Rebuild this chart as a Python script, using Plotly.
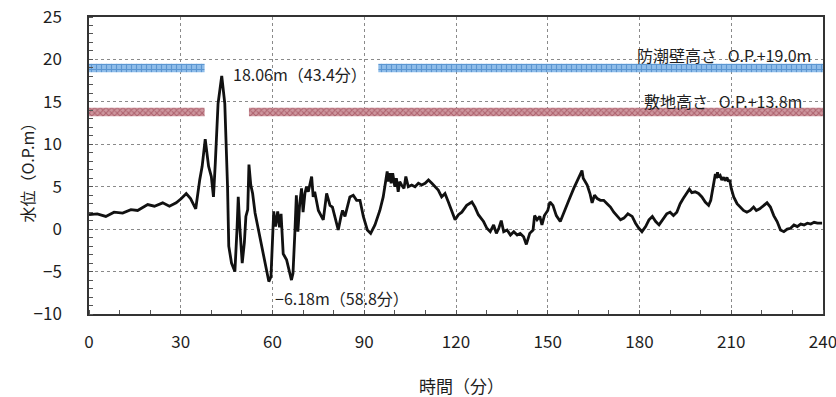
import plotly.graph_objects as go

# ---- data ----
time_min = [0, 2.7, 5.5, 8.2, 11, 13.7, 15.9, 19.2, 21.4, 24.1, 26.3, 28.5, 30.2, 31.8, 33.2, 34.9,
            36.2, 37, 38, 39.1, 40, 40.7, 41.3, 42.2, 43.4, 44.4, 45.3, 45.7, 46.6, 47.7, 48.4, 48.8,
            49.3, 50.1, 50.8, 51.3, 51.9, 52.3, 52.9, 53.5, 54.3, 56.5, 58.8, 59.5, 60, 60.4, 61, 61.7,
            62.3, 62.8, 63.5, 64.6, 66.2, 66.7, 67.3, 67.8, 68.3, 68.9, 69.5, 70, 70.6, 71.1, 71.7,
            72.2, 72.8, 73.3, 73.8, 75, 76.6, 77.7, 78.8, 79.6, 80.4, 81.5, 82.4, 82.9, 83.7, 85.3,
            86.4, 87.5, 88.6, 89.7, 91, 92.1, 93.5, 95.1, 96.2, 97.1, 97.5, 97.9, 98.4, 98.8, 99.3,
            100, 100.5, 101.1, 101.6, 102.2, 103, 103.6, 104.4, 105.5, 106.6, 107.7, 108.8, 109.9,
            111, 112.1, 113.1, 114.2, 115.3, 116.4, 117.5, 118.6, 119.7, 120.8, 121.9, 123.5, 125.2,
            126.2, 127.3, 129, 130.1, 131.2, 132.3, 133.2, 134, 134.8, 135.6, 136.7, 137.8, 138.9,
            140, 141, 142.1, 143, 144.1, 145.2, 145.7, 146.5, 147.4, 148.1, 148.9, 150, 150.7, 151.7,
            152.8, 154.1, 155.2, 156.9, 158.5, 159.6, 160.5, 161.2, 161.6, 162, 162.9, 163.8, 164.5,
            165.3, 166.2, 167.2, 168.3, 169.4, 170.5, 171.6, 172.7, 173.8, 174.9, 176.2, 177.6, 178.7,
            179.8, 180.8, 182, 183.1, 184.2, 185.3, 186.4, 187.8, 188.9, 190, 191.1, 192.2, 193.3,
            194.3, 195.4, 196.3, 197.1, 198.2, 199.3, 200.4, 201.5, 202.6, 203.3, 204.2, 204.8, 205.2,
            205.5, 205.9, 206.4, 206.9, 207.5, 208, 208.6, 209.1, 209.5, 210, 210.8, 211.9, 213, 214,
            215.1, 216.2, 217.3, 218.2, 219.3, 220.6, 221.7, 222.8, 223.9, 225, 226.1, 227.2, 228.3,
            229.4, 230.5, 231.6, 232.7, 233.8, 234.9, 236, 237.1, 238.2, 239.7]
level_m = [1.7, 1.8, 1.5, 2.0, 1.9, 2.3, 2.2, 2.9, 2.7, 3.1, 2.7, 3.1, 3.6, 4.2, 3.6, 2.4,
           5.8, 7.4, 10.6, 7.4, 6.2, 3.8, 7.8, 14.8, 18.06, 14.8, 5.0, -2.0, -4.0, -5.0, 0.0, 3.8,
           0.3, -4.0, -1.6, 1.5, 2.3, 7.6, 5.2, 4.2, 1.9, -2.0, -6.18, -5.6, -0.9, 2.1, 0.3, 2.1,
           0.2, 1.8, -2.9, -3.6, -6.0, -5.2, -0.5, 4.0, -0.3, 3.0, 4.8, 2.0, 4.2, 5.0, 4.4,
           5.4, 6.2, 3.8, 4.4, 2.2, 1.1, 4.2, 2.8, 2.6, 1.5, -0.1, 1.5, 2.2, 1.5, 3.8,
           4.0, 3.4, 3.4, 1.5, -0.1, -0.5, 0.5, 2.2, 3.8, 5.8, 6.8, 5.6, 6.6, 5.4, 6.6,
           5.0, 6.0, 4.4, 5.6, 5.2, 4.8, 6.2, 5.0, 5.2, 5.0, 5.4, 5.2, 5.4,
           5.8, 5.4, 5.0, 4.6, 3.8, 4.2, 3.2, 2.2, 1.1, 1.7, 2.0, 2.8, 3.2,
           2.6, 1.7, 0.9, 0.1, -0.3, 0.5, -0.5, 0.1, 1.0, -0.3, -0.1, -0.7, -0.3,
           -0.7, -0.5, -0.9, -1.8, -0.5, -0.1, 1.6, 1.1, 1.5, 0.5, 1.6, 2.2, 3.2, 2.8,
           1.6, 0.9, 1.8, 3.4, 4.8, 5.6, 6.4, 6.9, 6.0, 5.8, 5.2, 4.2, 3.1,
           4.0, 3.6, 3.4, 3.4, 3.0, 2.6, 2.0, 1.5, 1.1, 1.3, 1.8, 1.5, 0.7,
           0.1, -0.3, 0.3, 1.1, 1.5, 0.9, 0.5, 1.3, 1.8, 2.0, 1.6, 2.0, 3.0,
           3.6, 4.2, 4.7, 4.3, 4.4, 4.2, 3.8, 3.2, 2.8, 3.4, 5.0, 6.5, 6.0,
           6.7, 6.1, 6.3, 5.8, 6.1, 5.7, 6.1, 5.6, 5.8, 4.8, 3.8, 3.0, 2.6, 2.2,
           2.0, 2.2, 2.6, 2.2, 2.4, 2.8, 3.1, 2.6, 1.6, 0.9, -0.1, -0.3, 0.0,
           0.1, 0.5, 0.3, 0.6, 0.5, 0.7, 0.6, 0.8, 0.7, 0.7]

wall_level = 19.0
wall_segments = [(0.0, 37.8), (94.6, 240.0)]
ground_level = 13.8
ground_segments = [(0.0, 37.8), (52.3, 240.0)]

x_ticks = [0, 30, 60, 90, 120, 150, 180, 210, 240]
y_ticks = [-10, -5, 0, 5, 10, 15, 20, 25]

peak_label = "18.06m（43.4分）"
trough_label = "−6.18m（58.8分）"
wall_label = "防潮壁高さ\u00a0\u00a0\u00a0O.P.+19.0m"
ground_label = "敷地高さ\u00a0\u00a0\u00a0O.P.+13.8m"
x_title = "時間（分）"
y_title = "水位（O.P.m）"

FONT = "Noto Sans CJK JP, Noto Sans, sans-serif"
TXT = "#1e1e1e"
HALF = 0.5


def band(level, segments):
    xs, ys = [], []
    for a, b in segments:
        xs += [a, b, b, a, a, None]
        ys += [level - HALF, level - HALF, level + HALF, level + HALF, level - HALF, None]
    return xs, ys


fig = go.Figure()

bx, by = band(wall_level, wall_segments)
fig.add_trace(go.Scatter(x=bx, y=by, mode="lines", fill="toself", line=dict(width=0),
                         fillcolor="#4f93d6",
                         fillpattern=dict(shape="+", fgcolor="#2a6fba", bgcolor="#8fbde9",
                                          size=5, solidity=0.4),
                         hoverinfo="skip", showlegend=False))
gx, gy = band(ground_level, ground_segments)
fig.add_trace(go.Scatter(x=gx, y=gy, mode="lines", fill="toself", line=dict(width=0),
                         fillcolor="#b0606c",
                         fillpattern=dict(shape="x", fgcolor="#8a2c3c", bgcolor="#cf98a0",
                                          size=4, solidity=0.45),
                         hoverinfo="skip", showlegend=False))

fig.add_trace(go.Scatter(x=time_min, y=level_m, mode="lines",
                         line=dict(color="#111111", width=2.8), showlegend=False))

ann_font = dict(family=FONT, size=16, color=TXT)
fig.add_annotation(x=46.5, y=18.3, text=peak_label, showarrow=False, xanchor="left",
                   yanchor="middle", font=ann_font)
fig.add_annotation(x=60.3, y=-8.1, text=trough_label, showarrow=False, xanchor="left",
                   yanchor="middle", font=ann_font)
fig.add_annotation(x=236.8, y=20.5, text=wall_label, showarrow=False, xanchor="right",
                   yanchor="middle", font=dict(family=FONT, size=16, color=TXT))
fig.add_annotation(x=233.8, y=15.1, text=ground_label, showarrow=False, xanchor="right",
                   yanchor="middle", font=dict(family=FONT, size=16, color=TXT))

# axis titles
fig.add_annotation(xref="paper", yref="paper", x=0.5, y=0, xshift=5, yshift=-71,
                   text=x_title, showarrow=False, xanchor="center", yanchor="middle",
                   font=dict(family=FONT, size=17, color=TXT))
fig.add_annotation(xref="paper", yref="paper", x=0, y=0.5, xshift=-63, yshift=-3,
                   text=y_title, showarrow=False, textangle=-90, xanchor="center",
                   yanchor="middle", font=dict(family=FONT, size=16, color=TXT))

axis_common = dict(showgrid=True, gridcolor="#8a8a8a", griddash="dot", gridwidth=1,
                   showline=True, linecolor="#333333", linewidth=1.5, mirror=True,
                   zeroline=False, ticks="", automargin=False, ticklabeloverflow="allow",
                   tickfont=dict(family=FONT, size=17, color=TXT))

fig.update_xaxes(range=[0, 240], tickvals=x_ticks, ticklabelstandoff=12,
                 minor=dict(ticks="inside", dtick=10, ticklen=4, tickcolor="#555555", showgrid=False),
                 **axis_common)
fig.update_yaxes(range=[-10, 25], tickvals=y_ticks, ticklabelstandoff=22,
                 minor=dict(ticks="inside", dtick=1, ticklen=4, tickcolor="#555555", showgrid=False),
                 **axis_common)

fig.update_layout(width=836, height=397, margin=dict(l=89, r=13, t=17, b=83, autoexpand=False),
                  plot_bgcolor="white", paper_bgcolor="white",
                  font=dict(family=FONT))

fig.write_html("out.html", config={"displayModeBar": False},
               post_script="document.body.style.margin='0px';document.body.style.overflow='hidden';")
